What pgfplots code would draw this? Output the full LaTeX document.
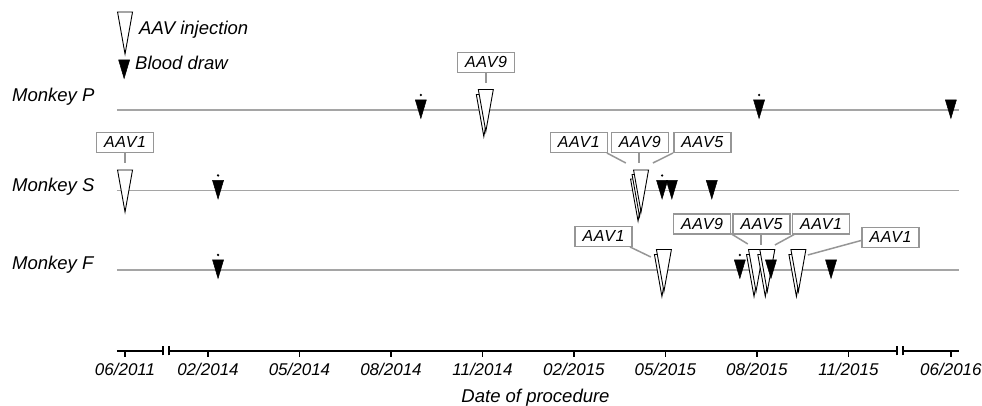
\documentclass[border=0pt]{standalone}
\usepackage{fontspec}
\setmainfont{Liberation Sans}
\usepackage{pgfplots}
\pgfplotsset{compat=1.18}

\definecolor{lgray}{RGB}{165,165,165}
\definecolor{bgray}{RGB}{150,150,150}

\newcommand\lab{\fontsize{18.5}{22}\selectfont\itshape}
\newcommand\tickfont{\fontsize{17}{20}\selectfont\itshape}
\newcommand\boxfont{\fontsize{16}{18}\selectfont\itshape\addfontfeature{LetterSpace=4}}

% open injection triangle, offset (#1,#2)
\newcommand\injtri[2]{%
  \pgfpathmoveto{\pgfpoint{#1-7.5pt}{#2+20.5pt}}%
  \pgfpathlineto{\pgfpoint{#1+7.5pt}{#2+20.5pt}}%
  \pgfpathlineto{\pgfpoint{#1}{#2-21.5pt}}%
  \pgfpathclose
  \pgfsetfillcolor{white}\pgfsetstrokecolor{black}\pgfsetlinewidth{0.9pt}%
  \pgfusepath{fill,stroke}}
\pgfdeclareplotmark{inj}{\injtri{0pt}{0pt}}
\pgfdeclareplotmark{inj2}{\injtri{-2pt}{-5pt}\injtri{0pt}{0pt}}
\pgfdeclareplotmark{inj3}{\injtri{-3pt}{-9pt}\injtri{-1.5pt}{-4.5pt}\injtri{0pt}{0pt}}
\newcommand\bldtri{%
  \pgfpathmoveto{\pgfpoint{-5.5pt}{10pt}}%
  \pgfpathlineto{\pgfpoint{5.5pt}{10pt}}%
  \pgfpathlineto{\pgfpoint{0pt}{-8.5pt}}%
  \pgfpathclose
  \pgfsetfillcolor{black}\pgfsetstrokecolor{black}\pgfsetlinewidth{0.5pt}%
  \pgfusepath{fill,stroke}}
\pgfdeclareplotmark{bld}{\bldtri}
\pgfdeclareplotmark{bldd}{\bldtri
  \pgfpathcircle{\pgfpoint{0pt}{15pt}}{1.3pt}\pgfusepath{fill}}

\begin{document}
\begin{tikzpicture}[
  box/.style={draw=bgray, line width=1.5pt, fill=white, minimum width=57pt,
              minimum height=20pt, inner sep=0pt, font=\boxfont},
  conn/.style={draw=bgray, line width=1.5pt},
  txt/.style={inner sep=0pt, font=\lab}]
\begin{axis}[
  x=30.5pt, y=1pt,
  xmin=-2.984, xmax=24.62, ymin=0, ymax=351,
  axis x line*=bottom, axis y line=none,
  xtick={-2.72,0,3,6,9,12,15,18,21,24.36},
  xticklabels={06/2011,02/2014,05/2014,08/2014,11/2014,02/2015,05/2015,08/2015,11/2015,06/2016},
  xtick pos=left, ytick=\empty,
  tick align=outside, major tick length=6pt,
  x axis line style={line width=1.4pt, black},
  x tick style={line width=1.4pt, black},
  xticklabel style={font=\tickfont, yshift=-3pt},
  clip=false,
]
% monkey timelines
\addplot[lgray, line width=1.7pt] coordinates {(-2.984,241) (24.62,241)};
\addplot[lgray, line width=1.7pt] coordinates {(-2.984,160.5) (24.62,160.5)};
\addplot[lgray, line width=1.7pt] coordinates {(-2.984,81) (24.62,81)};

% connectors
\draw[conn] (axis cs:9.11,278) -- (axis cs:9.11,268);
\draw[conn] (axis cs:-2.72,199) -- (axis cs:-2.72,188);
\draw[conn] (axis cs:13.08,198) -- (axis cs:13.70,188);
\draw[conn] (axis cs:14.13,199) -- (axis cs:14.13,188);
\draw[conn] (axis cs:15.25,198) -- (axis cs:14.59,188);
\draw[conn] (axis cs:13.84,104) -- (axis cs:14.52,94);
\draw[conn] (axis cs:17.11,118) -- (axis cs:17.70,107);
\draw[conn] (axis cs:18.13,118) -- (axis cs:18.13,106);
\draw[conn] (axis cs:19.31,118) -- (axis cs:18.59,106);
\draw[conn] (axis cs:21.48,111) -- (axis cs:19.67,96);

% AAV injections
\addplot[only marks, mark=inj] coordinates {(-2.72,160.5) (-2.72,318.5)};
\addplot[only marks, mark=inj2] coordinates {(9.11,241) (14.95,81) (17.97,81) (18.34,81) (19.36,81)};
\addplot[only marks, mark=inj3] coordinates {(14.20,160.5)};

% blood draws
\addplot[only marks, mark=bld] coordinates {(24.36,241) (15.21,160.5) (16.52,160.5) (18.46,81) (20.43,81) (-2.75,281)};
\addplot[only marks, mark=bldd] coordinates {(6.98,241) (18.07,241) (0.33,160.5) (14.89,160.5) (0.33,81) (17.44,81)};

% label boxes
\node[box] at (axis cs:9.12,288.5) {AAV9};
\node[box] at (axis cs:-2.72,208.5) {AAV1};
\node[box] at (axis cs:12.16,208.5) {AAV1};
\node[box] at (axis cs:14.16,208.5) {AAV9};
\node[box] at (axis cs:16.21,208.5) {AAV5};
\node[box] at (axis cs:12.97,114.5) {AAV1};
\node[box] at (axis cs:16.20,127) {AAV9};
\node[box] at (axis cs:18.15,127) {AAV5};
\node[box] at (axis cs:20.10,127) {AAV1};
\node[box] at (axis cs:22.38,113.5) {AAV1};

% legend
\node[txt, anchor=base west] at (axis cs:-2.262,316) {AAV injection};
\node[txt, anchor=base west] at (axis cs:-2.393,281) {Blood draw};

% monkey labels
\node[txt, anchor=base west] at (axis cs:-6.426,249.3) {Monkey P};
\node[txt, anchor=base west] at (axis cs:-6.426,159.3) {Monkey S};
\node[txt, anchor=base west] at (axis cs:-6.426,81) {Monkey F};

% x label
\node[txt, anchor=base] at (axis cs:10.74,-52) {Date of procedure};

\coordinate (b1a) at (axis cs:-1.475,0);
\coordinate (b1b) at (axis cs:-1.279,0);
\coordinate (b2a) at (axis cs:22.59,0);
\coordinate (b2b) at (axis cs:22.79,0);
\coordinate (bl) at (axis cs:-6.82,-55);
\coordinate (tr) at (axis cs:25.38,351);
\end{axis}
% axis breaks
\fill[white] ([yshift=-3pt]b1a) rectangle ([yshift=3pt]b1b);
\fill[white] ([yshift=-3pt]b2a) rectangle ([yshift=3pt]b2b);
\foreach \c in {b1a,b1b,b2a,b2b}{
  \draw[line width=1.4pt] ([yshift=-4.5pt]\c) -- ([yshift=4.5pt]\c);
}
\pgfresetboundingbox
\path[use as bounding box] (bl) rectangle (tr);
\end{tikzpicture}
\end{document}
